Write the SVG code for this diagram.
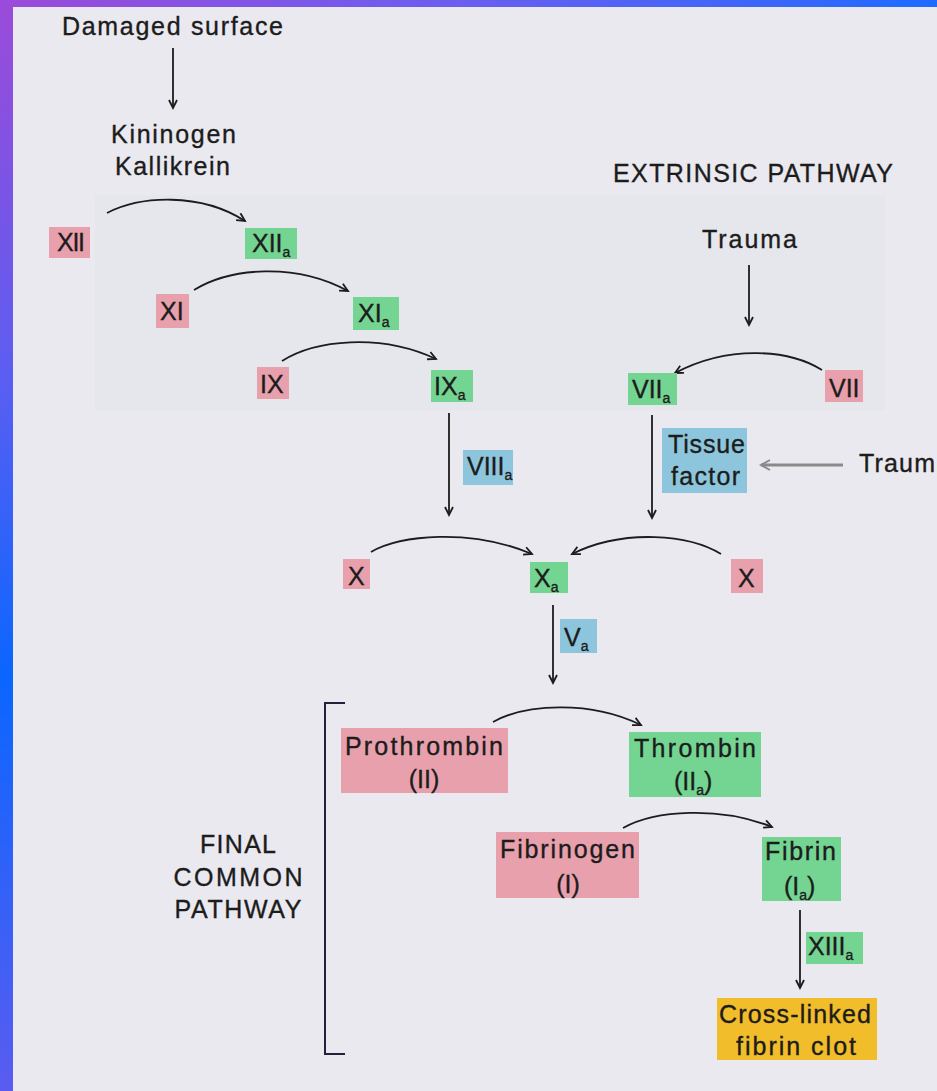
<svg xmlns="http://www.w3.org/2000/svg" width="937" height="1091" viewBox="0 0 937 1091">
<defs>
<linearGradient id="gTop" x1="0" y1="0" x2="1" y2="0">
<stop offset="0" stop-color="#9b4bd9"/><stop offset="0.5" stop-color="#6a5ef0"/><stop offset="1" stop-color="#1f6bff"/>
</linearGradient>
<linearGradient id="gLeft" x1="0" y1="0" x2="0" y2="1">
<stop offset="0" stop-color="#9b4bd9"/><stop offset="0.35" stop-color="#5a5ef2"/><stop offset="0.62" stop-color="#0a66ff"/><stop offset="1" stop-color="#5a5cf0"/>
</linearGradient>
<marker id="ah" markerUnits="userSpaceOnUse" markerWidth="12" markerHeight="12" refX="9" refY="5" orient="auto">
<path d="M1,1 L9,5 L1,9" fill="none" stroke="#1c1c1c" stroke-width="1.8"/>
</marker>
<marker id="ahg" markerUnits="userSpaceOnUse" markerWidth="14" markerHeight="14" refX="10" refY="6" orient="auto">
<path d="M1,1 L10,6 L1,11" fill="none" stroke="#8a8a8a" stroke-width="2"/>
</marker>
<style>
.t{font-family:"Liberation Sans",Arial,sans-serif;font-size:25px;fill:#1c1c1c;stroke:#1c1c1c;stroke-width:0.35}
.s{font-size:14px}
.pink{fill:#e8a0ad}
.green{fill:#74d492}
.blue{fill:#8dc6dc}
.yellow{fill:#f1bd2a}
.ln{fill:none;stroke:#1c1c1c;stroke-width:1.8}
</style>
</defs>
<rect x="0" y="0" width="937" height="1091" fill="#eae9ef"/>
<rect x="95" y="195" width="790" height="215" fill="#e6e6ed"/>
<rect x="0" y="0" width="937" height="7" fill="url(#gTop)"/>
<rect x="0" y="0" width="13" height="1091" fill="url(#gLeft)"/>

<g id="labels">
<text class="t" x="62" y="35" textLength="221" lengthAdjust="spacing">Damaged surface</text>
<text class="t" x="111" y="143" textLength="125" lengthAdjust="spacing">Kininogen</text>
<text class="t" x="115" y="175" textLength="115" lengthAdjust="spacing">Kallikrein</text>
<text class="t" x="613" y="182" textLength="280" lengthAdjust="spacing">EXTRINSIC  PATHWAY</text>
<text class="t" x="702" y="248" textLength="95" lengthAdjust="spacing">Trauma</text>
<text class="t" x="859" y="472" textLength="76" lengthAdjust="spacing">Traum</text>
<text class="t" x="238" y="853" text-anchor="middle" textLength="76" lengthAdjust="spacing">FINAL</text>
<text class="t" x="238" y="886" text-anchor="middle" textLength="129" lengthAdjust="spacing">COMMON</text>
<text class="t" x="238" y="918" text-anchor="middle" textLength="127" lengthAdjust="spacing">PATHWAY</text>
</g>

<g id="connectors">
<line class="ln" x1="173" y1="48" x2="173" y2="108" marker-end="url(#ah)"/>
<line class="ln" x1="749" y1="265" x2="749" y2="325" marker-end="url(#ah)"/>
<path class="ln" d="M107,213 C140,196 200,192 245,221" marker-end="url(#ah)"/>
<path class="ln" d="M194,290 C230,268 295,262 348,291" marker-end="url(#ah)"/>
<path class="ln" d="M282,361 C315,340 380,333 436,359" marker-end="url(#ah)"/>
<path class="ln" d="M822,370 C790,350 730,344 675,373" marker-end="url(#ah)"/>
<line class="ln" x1="449" y1="413" x2="449" y2="515" marker-end="url(#ah)"/>
<line class="ln" x1="652" y1="415" x2="652" y2="518" marker-end="url(#ah)"/>
<line x1="843" y1="465" x2="761" y2="465" stroke="#8a8a8a" stroke-width="3" marker-end="url(#ahg)"/>
<path class="ln" d="M371,552 C400,535 470,528 532,554" marker-end="url(#ah)"/>
<path class="ln" d="M721,554 C690,535 625,528 572,554" marker-end="url(#ah)"/>
<line class="ln" x1="553" y1="605" x2="553" y2="683" marker-end="url(#ah)"/>
<path class="ln" d="M493,722 C525,704 590,700 641,725" marker-end="url(#ah)"/>
<path class="ln" d="M623,828 C655,810 720,806 772,827" marker-end="url(#ah)"/>
<line class="ln" x1="800" y1="910" x2="800" y2="988" marker-end="url(#ah)"/>
<path d="M345,703 H325 V1054 H345" fill="none" stroke="#22223a" stroke-width="2"/>
</g>

<g id="XII"><rect class="pink" x="49" y="227" width="41" height="31"/><text class="t" x="57" y="251" textLength="28" lengthAdjust="spacing">XII</text></g>
<g id="XIIa"><rect class="green" x="245" y="228" width="52" height="31"/><text class="t" x="252" y="252">XII<tspan class="s" dy="5">a</tspan></text></g>
<g id="XI"><rect class="pink" x="156" y="294" width="33" height="34"/><text class="t" x="160" y="320">XI</text></g>
<g id="XIa"><rect class="green" x="353" y="297" width="46" height="33"/><text class="t" x="358" y="322">XI<tspan class="s" dy="5">a</tspan></text></g>
<g id="IX"><rect class="pink" x="257" y="367" width="32" height="32"/><text class="t" x="260" y="393">IX</text></g>
<g id="IXa"><rect class="green" x="431" y="370" width="42" height="32"/><text class="t" x="434" y="395">IX<tspan class="s" dy="5">a</tspan></text></g>
<g id="VII"><rect class="pink" x="825" y="370" width="38" height="32"/><text class="t" x="829" y="397">VII</text></g>
<g id="VIIa"><rect class="green" x="628" y="373" width="49" height="32"/><text class="t" x="632" y="398">VII<tspan class="s" dy="5">a</tspan></text></g>
<g id="TissueFactor"><rect class="blue" x="662" y="428" width="85" height="65"/><text class="t" x="668" y="453" textLength="77" lengthAdjust="spacing">Tissue</text><text class="t" x="671" y="485" textLength="69" lengthAdjust="spacing">factor</text></g>
<g id="VIIIa"><rect class="blue" x="463" y="450" width="50" height="35"/><text class="t" x="467" y="475">VIII<tspan class="s" dy="5">a</tspan></text></g>
<g id="X_left"><rect class="pink" x="343" y="559" width="27" height="30"/><text class="t" x="348" y="585">X</text></g>
<g id="Xa"><rect class="green" x="530" y="562" width="38" height="31"/><text class="t" x="534" y="587">X<tspan class="s" dy="5">a</tspan></text></g>
<g id="X_right"><rect class="pink" x="731" y="559" width="32" height="34"/><text class="t" x="738" y="587">X</text></g>
<g id="Va"><rect class="blue" x="560" y="619" width="37" height="34"/><text class="t" x="564" y="646">V<tspan class="s" dy="5">a</tspan></text></g>
<g id="Prothrombin"><rect class="pink" x="341" y="728" width="167" height="65"/><text class="t" x="345" y="755" textLength="158" lengthAdjust="spacing">Prothrombin</text><text class="t" x="424" y="788" text-anchor="middle">(II)</text></g>
<g id="Thrombin"><rect class="green" x="629" y="732" width="132" height="65"/><text class="t" x="634" y="757" textLength="122" lengthAdjust="spacing">Thrombin</text><text class="t" x="674" y="790">(II<tspan class="s" dy="5">a</tspan><tspan dy="-5">)</tspan></text></g>
<g id="Fibrinogen"><rect class="pink" x="496" y="832" width="143" height="66"/><text class="t" x="500" y="858" textLength="135" lengthAdjust="spacing">Fibrinogen</text><text class="t" x="568" y="893" text-anchor="middle">(I)</text></g>
<g id="Fibrin"><rect class="green" x="762" y="837" width="79" height="64"/><text class="t" x="765" y="860" textLength="71" lengthAdjust="spacing">Fibrin</text><text class="t" x="784" y="895">(I<tspan class="s" dy="5">a</tspan><tspan dy="-5">)</tspan></text></g>
<g id="XIIIa"><rect class="green" x="806" y="932" width="57" height="32"/><text class="t" x="808" y="955">XIII<tspan class="s" dy="5">a</tspan></text></g>
<g id="Clot"><rect class="yellow" x="717" y="998" width="160" height="62"/><text class="t" x="719" y="1023" textLength="152" lengthAdjust="spacing">Cross-linked</text><text class="t" x="736" y="1055" textLength="120" lengthAdjust="spacing">fibrin clot</text></g>
</svg>
